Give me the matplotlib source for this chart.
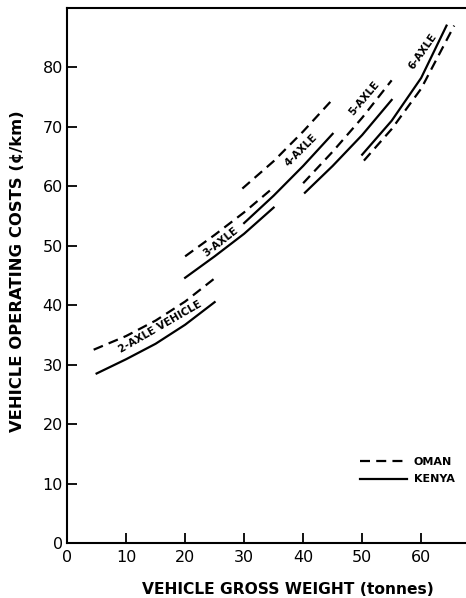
import matplotlib.pyplot as plt

# Vehicle gross weight (t) and operating cost (cents/km)
# Oman = dashed, Kenya = solid
oman_2_x = [4.5, 10, 15, 20, 25]
oman_2_y = [32.5, 34.8, 37.4, 40.6, 44.5]
kenya_2_x = [5, 10, 15, 20, 25]
kenya_2_y = [28.5, 30.9, 33.5, 36.7, 40.5]

oman_3_x = [20, 25, 30, 35]
oman_3_y = [48.2, 51.8, 55.6, 59.8]
kenya_3_x = [20, 25, 30, 35]
kenya_3_y = [44.6, 48.2, 52.0, 56.4]

oman_4_x = [29.7, 35, 40, 45]
oman_4_y = [59.6, 64.2, 69.2, 74.6]
kenya_4_x = [30, 35, 40, 45]
kenya_4_y = [53.8, 58.4, 63.4, 68.8]

oman_5_x = [40, 45, 50, 55]
oman_5_y = [60.5, 65.8, 71.5, 77.8]
kenya_5_x = [40.3, 45, 50, 55]
kenya_5_y = [58.9, 63.4, 68.6, 74.5]

oman_6_x = [50.3, 55, 60, 65.6]
oman_6_y = [64.3, 69.6, 76.4, 87.0]
kenya_6_x = [50, 55, 60, 64.3]
kenya_6_y = [65.3, 71.0, 78.2, 87.0]

# curve labels: text, x, y, angle
labels = [
    ("2-AXLE VEHICLE", 15.8, 36.4, 30),
    ("3-AXLE", 26.0, 50.6, 38),
    ("4-AXLE", 39.6, 66.0, 45),
    ("5-AXLE", 50.3, 74.8, 50),
    ("6-AXLE", 60.2, 82.6, 55),
]

x_ticks = [0, 10, 20, 30, 40, 50, 60]
y_ticks = [0, 10, 20, 30, 40, 50, 60, 70, 80]

fig = plt.figure(figsize=(4.66, 5.98), dpi=100)
ax = fig.add_axes([0.144, 0.092, 0.856, 0.895])

dash = (0, (4.5, 2.8))
lw = 1.6
ax.plot(oman_2_x, oman_2_y, color="black", lw=lw, ls=dash, label="OMAN")
ax.plot(kenya_2_x, kenya_2_y, color="black", lw=lw, label="KENYA")
for xs, ys in [(oman_3_x, oman_3_y), (oman_4_x, oman_4_y),
               (oman_5_x, oman_5_y), (oman_6_x, oman_6_y)]:
    ax.plot(xs, ys, color="black", lw=lw, ls=dash)
for xs, ys in [(kenya_3_x, kenya_3_y), (kenya_4_x, kenya_4_y),
               (kenya_5_x, kenya_5_y), (kenya_6_x, kenya_6_y)]:
    ax.plot(xs, ys, color="black", lw=lw)

for text, x, y, ang in labels:
    ax.text(x, y, text, rotation=ang, ha="center", va="center",
            fontsize=7.5, fontweight="bold", rotation_mode="anchor")

ax.set_xlim(0, 67.6)
ax.set_ylim(0, 90)
ax.set_xticks(x_ticks)
ax.set_yticks(y_ticks)
ax.tick_params(direction="in", length=7, width=1.3, labelsize=11.5, pad=3)
ax.tick_params(axis="x", pad=5)

for side in ["left", "bottom", "top"]:
    ax.spines[side].set_linewidth(1.5)
ax.spines["right"].set_visible(False)

ax.set_xlabel("VEHICLE GROSS WEIGHT (tonnes)", fontsize=11.2, fontweight="bold")
ax.set_ylabel("VEHICLE OPERATING COSTS (¢/km)", fontsize=11.8, fontweight="bold")
ax.xaxis.set_label_coords(0.553, -0.073)
ax.yaxis.set_label_coords(-0.105, 0.508)

ax.legend(loc="upper left", bbox_to_anchor=(0.71, 0.18), frameon=False,
          handlelength=4.2, prop={"size": 8, "weight": "bold"},
          handletextpad=0.6, labelspacing=0.7)

fig.savefig("out.png", dpi=100)
